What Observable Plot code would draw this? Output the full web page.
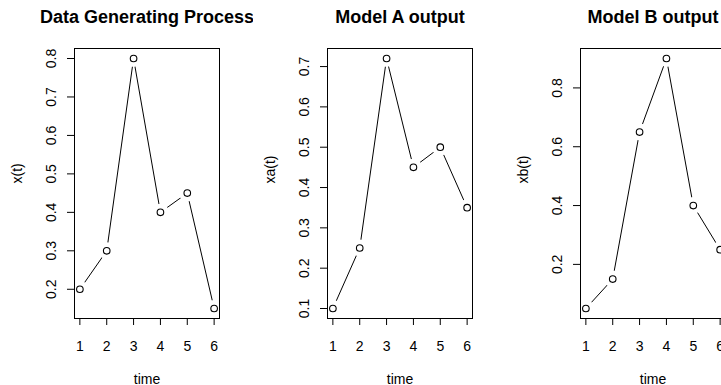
<!DOCTYPE html>
<html><head><meta charset="utf-8">
<script src="https://cdn.jsdelivr.net/npm/d3@7"></script>
<script src="https://cdn.jsdelivr.net/npm/@observablehq/plot@0.6"></script>
<style>
body{margin:0;background:#fff;}
#row{display:flex;width:721px;height:385px;overflow:hidden;}
#row svg{flex:none;display:block;}
</style></head><body><div id="row"></div>
<script>
const time = [1, 2, 3, 4, 5, 6];
const xDGP = [0.2, 0.3, 0.8, 0.4, 0.45, 0.15];
const xModelA = [0.1, 0.25, 0.72, 0.45, 0.5, 0.35];
const xModelB = [0.05, 0.15, 0.65, 0.9, 0.4, 0.25];
const titles = ["Data Generating Process", "Model A output", "Model B output"];
const yLabels = ["x(t)", "xa(t)", "xb(t)"];
const xLabel = "time";
const xTicks = [1, 2, 3, 4, 5, 6];
const yTicksDGP = [0.2, 0.3, 0.4, 0.5, 0.6, 0.7, 0.8];
const yTicksA = [0.1, 0.2, 0.3, 0.4, 0.5, 0.6, 0.7];
const yTicksB = [0.2, 0.4, 0.6, 0.8];

const series = [xDGP, xModelA, xModelB];
const yTicks = [yTicksDGP, yTicksA, yTicksB];

// R-style 4% range extension
function ext(arr) {
  const [a, b] = d3.extent(arr);
  const p = (b - a) * 0.04;
  return [a - p, b + p];
}

const font = "'Liberation Sans', Arial, sans-serif";
const row = document.getElementById("row");

series.forEach((vals, i) => {
  const data = time.map((t, j) => ({t, v: vals[j]}));
  const chart = Plot.plot({
    width: 253,
    height: 385,
    marginLeft: 74,
    marginRight: 34,
    marginTop: 48,
    marginBottom: 67,
    style: {fontFamily: font, fontSize: "14px", color: "#000", background: "#fff"},
    x: {domain: ext(time), axis: null},
    y: {domain: ext(vals), axis: null},
    marks: [
      Plot.line(data, {x: "t", y: "v", stroke: "#000", strokeWidth: 1}),
      Plot.dot(data, {x: "t", y: "v", r: 8.5, fill: "#fff", stroke: null}),
      Plot.frame({stroke: "#000", strokeWidth: 1}),
      Plot.dot(data, {x: "t", y: "v", r: 3.3, fill: "none", stroke: "#000", strokeWidth: 1.1}),
      Plot.axisX(xTicks, {tickSize: 7, tickPadding: 16, label: null, fontSize: 14, stroke: "#000"}),
      Plot.axisY(yTicks[i], {tickSize: 7, tickRotate: -90, tickPadding: 12, label: null, fontSize: 14, stroke: "#000"}),
      Plot.text([titles[i]], {frameAnchor: "top", dy: -26, lineAnchor: "bottom", text: d => d, fontWeight: "bold", fontSize: 18, fill: "#000"}),
      Plot.text([yLabels[i]], {frameAnchor: "left", dx: -57, rotate: -90, lineAnchor: "middle", text: d => d, fontSize: 14, fill: "#000"}),
      Plot.text([xLabel], {frameAnchor: "bottom", dy: 65, lineAnchor: "bottom", text: d => d, fontSize: 14, fill: "#000"})
    ]
  });
  row.appendChild(chart);
});
</script>
</body></html>
